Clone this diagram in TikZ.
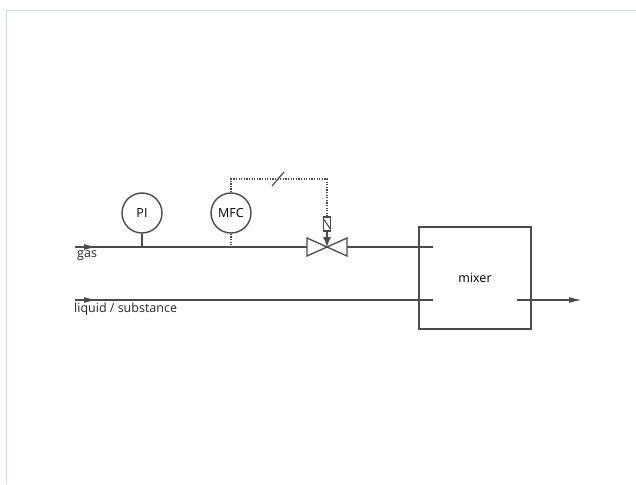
\documentclass[tikz,border=0pt]{standalone}
\usepackage{fontspec}
\setmainfont{Open Sans}
\usepackage{xcolor}
\usetikzlibrary{shapes,arrows,positioning,calc,arrows.meta}
\definecolor{pipegray}{RGB}{75,75,75}
\definecolor{framecol}{RGB}{208,222,228}

\begin{document}
\begin{tikzpicture}[x=1pt,y=-1pt,
    pipe/.style={draw=pipegray, line width=1.5pt},
    signal/.style={draw=pipegray, line width=1.3pt, dash pattern=on 1.3pt off 1.3pt},
    flow/.style={pipe, -{Latex[length=13pt,width=6pt]}},
    instr/.style={circle, draw=pipegray, line width=1.4pt, minimum size=40pt, inner sep=0pt,
        font=\fontsize{12.5}{14}\selectfont},
    tag/.style={font=\fontsize{12.5}{14}\selectfont, inner sep=0pt, text=black!85}]
    \useasboundingbox (0,0) rectangle (636,484);
    % frame
    \draw[framecol, line width=0.8pt] (6,484) -- (6,10) -- (636,10);

    % nodes
    \node[instr] (pi) at (142,213) {PI};
    \node[instr] (mfc) at (231,213) {MFC};
    \node[draw=pipegray, line width=1.5pt, minimum width=112pt, minimum height=102pt,
        font=\fontsize{12.5}{14}\selectfont] (mixer) at (475,278) {mixer};
    \node[draw=pipegray, line width=1.1pt, minimum width=7pt, minimum height=14pt,
        inner sep=0pt] (act) at (327,224) {};
    \coordinate (valve) at (327,247);
    \coordinate (gasin) at (75,247);
    \coordinate (gasend) at (433,247);
    \coordinate (liqin) at (75,300);
    \coordinate (liqend) at (433,300);
    \coordinate (outA) at (517,300);
    \coordinate (outB) at (582,300);
    \coordinate (ctl) at (327,179);

    % gas line
    \draw[pipe] (gasin) -- ($(valve)+(-20,0)$);
    \draw[pipe] ($(valve)+(20,0)$) -- (gasend);
    \draw[flow] (gasin) -- ++(22,0);
    \node[tag, anchor=north west] (gas) at (77,250) {gas};

    % liquid line
    \draw[pipe] (liqin) -- (liqend);
    \draw[flow] (liqin) -- ++(22,0);
    \node[tag, anchor=north west] (liq) at (74,303) {liquid / substance};

    % outlet
    \draw[flow] (outA) -- (outB);

    % instruments
    \draw[pipe, line width=1.4pt] (pi.south) -- (pi.south |- gasin);
    \draw[signal] (mfc.south) -- (mfc.south |- gasin);
    \draw[signal] (mfc.north) |- (ctl) -- (act.north);
    \draw[pipegray, line width=1.2pt] ($(ctl)+(-55,7)$) -- ++(12,-14);

    % valve
    \draw[pipe, line width=1.3pt, fill=white] ($(valve)+(-20,-9)$) -- ($(valve)+(-20,9)$) -- (valve) -- cycle;
    \draw[pipe, line width=1.3pt, fill=white] ($(valve)+(20,-9)$) -- ($(valve)+(20,9)$) -- (valve) -- cycle;
    \draw[pipegray, line width=1pt] ($(act.north west)+(1,3)$) -- ($(act.south east)+(-1,-3)$);
    \draw[pipegray, line width=1.2pt, -{Latex[length=10pt,width=8pt]}] (act.south) -- (valve);
\end{tikzpicture}
\end{document}
